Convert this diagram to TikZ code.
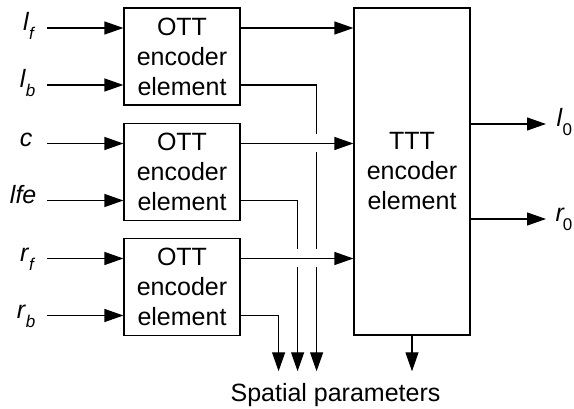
\documentclass[tikz,border=0pt]{standalone}
\usepackage{fontspec}
\setmainfont{Liberation Sans}
\usetikzlibrary{arrows.meta,calc}

\newcommand\sig[2]{#1\raisebox{-9pt}{\fontsize{17}{17}\selectfont #2}}

\begin{document}
\begin{tikzpicture}[x=1pt, y=-1pt, line width=1.2pt,
    font=\fontsize{25}{30}\selectfont,
    encoder/.style={draw, minimum width=116pt, align=center, inner sep=0pt},
    sig in/.style={anchor=mid east, inner sep=0pt},
    sig out/.style={anchor=mid west, inner sep=0pt},
    arr/.style={-{Triangle[length=19pt,width=13pt]}}]

                \useasboundingbox (0,0) rectangle (574,409);

                % Draw OTT encoder elements
                \node[encoder, minimum height=97pt] (ott1) at (182,56.5) {OTT\\encoder\\element};
                \node[encoder, minimum height=97pt] (ott2) at (182,172) {OTT\\encoder\\element};
                \node[encoder, minimum height=97pt] (ott3) at (182,287) {OTT\\encoder\\element};

                % Draw TTT encoder element
                \node[encoder, minimum height=327pt] (ttt) at (412,171.5) {TTT\\encoder\\element};

                % Input labels
                \node[sig in] (lf) at (36,28) {\sig{\textit{l}}{\textit{f}}};
                \node[sig in] (lb) at (36,85) {\sig{\textit{l}}{\textit{b}}};
                \node[sig in] (c) at (33,143.5) {\textit{c}};
                \node[sig in] (lfe) at (37,200.5) {\textit{lfe}};
                \node[sig in] (rf) at (36,258.5) {\sig{\textit{r}}{\textit{f}}};
                \node[sig in] (rb) at (36,315.5) {\sig{\textit{r}}{\textit{b}}};

                % Input arrows
                \draw[arr] (lf.mid east) ++(11,0) -- (ott1.west |- lf.mid east);
                \draw[arr] (lb.mid east) ++(11,0) -- (ott1.west |- lb.mid east);
                \draw[arr] (c.mid east) ++(14,0) -- (ott2.west |- c.mid east);
                \draw[arr] (lfe.mid east) ++(10,0) -- (ott2.west |- lfe.mid east);
                \draw[arr] (rf.mid east) ++(11,0) -- (ott3.west |- rf.mid east);
                \draw[arr] (rb.mid east) ++(11,0) -- (ott3.west |- rb.mid east);

                % OTT to TTT
                \draw[arr] (ott1.east |- lf.mid east) -- (ttt.west |- lf.mid east);
                \draw[arr] (ott2.east |- c.mid east) -- (ttt.west |- c.mid east);
                \draw[arr] (ott3.east |- rf.mid east) -- (ttt.west |- rf.mid east);

                % Output labels
                \node[sig out] (l0) at (556,124) {\sig{\textit{l}}{0}};
                \node[sig out] (r0) at (555,219) {\sig{\textit{r}\kern-2pt}{0}};
                \draw[arr] (ttt.east |- l0.mid west) -- ([xshift=-10pt]l0.mid west);
                \draw[arr] (ttt.east |- r0.mid west) -- ([xshift=-9pt]r0.mid west);

                % Spatial parameters
                \node[anchor=base, inner sep=0pt] (spat) at (335.5,402) {Spatial parameters};
                \coordinate (sp) at ([yshift=12pt]spat.north);

                \draw (ott1.east |- lb.mid east) -- ++(76,0) coordinate (d1)
                    -- ($(d1 |- c.mid east)+(0,-9)$);
                \draw ($(d1 |- c.mid east)+(0,9)$) -- ($(d1 |- rf.mid east)+(0,-9)$);
                \draw[arr] ($(d1 |- rf.mid east)+(0,9)$) -- (d1 |- sp);
                \draw (ott2.east |- lfe.mid east) -- ++(57,0) coordinate (d2)
                    -- ($(d2 |- rf.mid east)+(0,-9)$);
                \draw[arr] ($(d2 |- rf.mid east)+(0,9)$) -- (d2 |- sp);
                \draw[arr] (ott3.east |- rb.mid east) -- ++(38,0) coordinate (d3) -- (d3 |- sp);
                \draw[arr] (ttt.south) -- (ttt.south |- sp);

\end{tikzpicture}
\end{document}
